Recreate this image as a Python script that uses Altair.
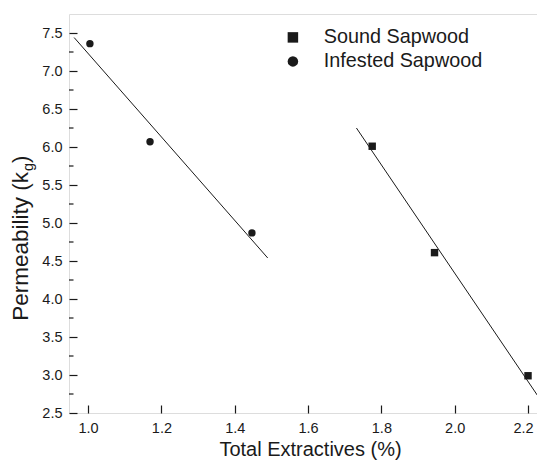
import altair as alt
import pandas as pd

# ---- data ----
series_names = ["Sound Sapwood", "Infested Sapwood"]

sound_x = [1.775, 1.945, 2.20]
sound_y = [6.01, 4.61, 2.99]
infested_x = [1.005, 1.169, 1.447]
infested_y = [7.36, 6.07, 4.87]

# fitted regression line endpoints
sound_fit_x = [1.732, 2.24]
sound_fit_y = [6.25, 2.63]
infested_fit_x = [0.962, 1.49]
infested_fit_y = [7.44, 4.54]

x_ticks = [1.0, 1.2, 1.4, 1.6, 1.8, 2.0, 2.2]
y_ticks = [2.5, 3.0, 3.5, 4.0, 4.5, 5.0, 5.5, 6.0, 6.5, 7.0, 7.5]
y_minor = [2.75, 3.25, 3.75, 4.25, 4.75, 5.25, 5.75, 6.25, 6.75, 7.25]

x_title = "Total Extractives (%)"
y_title_main = "Permeability (k"
y_title_sub = "g"
y_title_end = ")"

FONT = "Liberation Sans"
INK = "#1a1a1a"

pts = pd.DataFrame({
    "x": sound_x + infested_x,
    "y": sound_y + infested_y,
    "series": [series_names[0]] * len(sound_x) + [series_names[1]] * len(infested_x),
})
fits = pd.DataFrame({
    "x": sound_fit_x + infested_fit_x,
    "y": sound_fit_y + infested_fit_y,
    "series": [series_names[0]] * 2 + [series_names[1]] * 2,
})
minor_df = pd.DataFrame({"y": y_minor})

xscale = alt.Scale(domain=[0.948, 2.2245], nice=False, zero=False)
yscale = alt.Scale(domain=[2.5, 7.75], nice=False, zero=False)

xaxis = alt.Axis(values=x_ticks, format=".1f", title=x_title, grid=False, domain=False,
                 tickSize=8, offset=-8, labelPadding=8, tickColor=INK, tickWidth=1.2,
                 labelOverlap=False, labelFlush=False,
                 labelOffset={"condition": {"test": "datum.value > 2.19", "value": -5}, "value": 0},
                 labelFont=FONT, labelFontSize=14.5, labelColor=INK,
                 titleFont=FONT, titleFontSize=20, titleFontWeight="normal", titleColor=INK,
                 titlePadding=4.5, titleX=241)
yaxis = alt.Axis(values=y_ticks, format=".1f", title=None, grid=False, domain=False,
                 tickSize=8, offset=-8, labelPadding=7, tickColor=INK, tickWidth=1.2,
                 labelOverlap=False, labelFlush=False,
                 labelFont=FONT, labelFontSize=14.5, labelColor=INK)

X = alt.X("x:Q", scale=xscale, axis=xaxis)
Y = alt.Y("y:Q", scale=yscale, axis=yaxis)

lines = alt.Chart(fits).mark_line(color=INK, strokeWidth=1, clip=True).encode(
    x=X, y=Y, detail="series:N",
)

points = alt.Chart(pts).mark_point(filled=True, color=INK, opacity=1, size=55).encode(
    x=X, y=Y,
    shape=alt.Shape("series:N",
                    scale=alt.Scale(domain=series_names, range=["square", "circle"]),
                    legend=alt.Legend(title=None, orient="none", legendX=214, legendY=13.5,
                                      symbolSize=110, symbolFillColor=INK, symbolStrokeWidth=0,
                                      labelFont=FONT, labelFontSize=19.8, labelColor=INK,
                                      labelOffset=21, rowPadding=3, padding=0)),
)

minor = alt.Chart(minor_df).mark_rule(color=INK, strokeWidth=1.2).encode(
    y=Y,
    x=alt.value(0),
    x2=alt.value(4.5),
)

tdf = pd.DataFrame({"k": [0]})
t_main = alt.Chart(tdf).mark_text(font=FONT, fontSize=22.5, angle=270, align="right",
                                  baseline="alphabetic", color=INK).encode(
    x=alt.value(-41), y=alt.value(158), text=alt.value(y_title_main))
t_sub = alt.Chart(tdf).mark_text(font=FONT, fontSize=14.5, angle=270, align="left",
                                 baseline="alphabetic", color=INK).encode(
    x=alt.value(-36), y=alt.value(157), text=alt.value(y_title_sub))
t_end = alt.Chart(tdf).mark_text(font=FONT, fontSize=22.5, angle=270, align="left",
                                 baseline="alphabetic", color=INK).encode(
    x=alt.value(-41), y=alt.value(149), text=alt.value(y_title_end))

chart = alt.layer(lines, minor, points, t_main, t_sub, t_end).properties(
    width=468, height=399,
    autosize=alt.AutoSizeParams(type="none"),
    padding={"left": 61, "top": 6, "right": 0, "bottom": 47},
).configure_view(stroke=INK, strokeWidth=1.6).configure_axis(
    labelOverlap=False
).configure(background="white")

chart.save("out.html", embed_options={"renderer": "svg", "actions": False})
